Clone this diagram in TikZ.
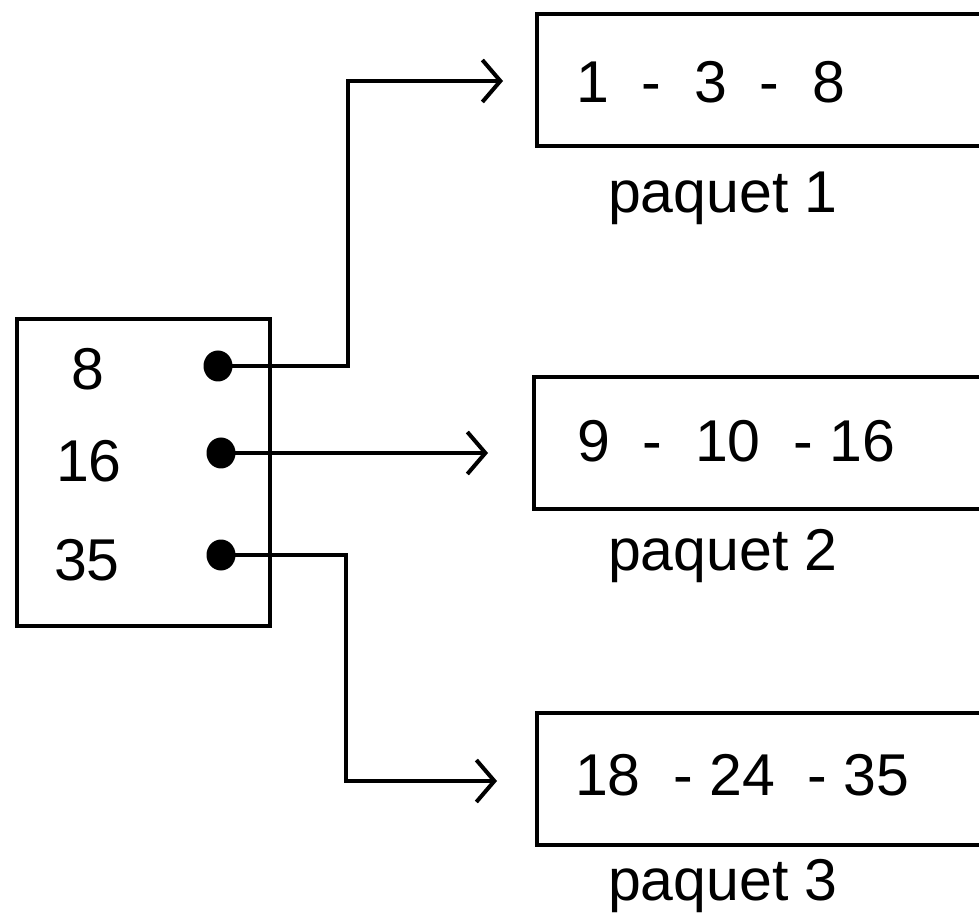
\documentclass[tikz,border=0pt]{standalone}
\usepackage{fontspec}
\setmainfont{Liberation Sans}
\usetikzlibrary{arrows.meta,shapes.geometric}

\begin{document}
\begin{tikzpicture}[
  x=0.5pt, y=-0.5pt,
  line width=2pt,
  font=\fontsize{29.5}{35}\selectfont,
  box/.style={draw, rectangle, anchor=north west, inner sep=0pt},
  pbox/.style={box, minimum width=232.5pt, minimum height=66pt},
  val/.style={anchor=base west, inner sep=0pt},
  key/.style={anchor=base, inner sep=0pt},
  dot/.style={ellipse, fill, minimum width=14.5pt, minimum height=15.5pt, inner sep=0pt},
  >={Straight Barb[length=9pt, width=21pt]},
]
\useasboundingbox (0,0) rectangle (979,924);
\clip (0,0) rectangle (979,924);
% index box
\node[box, minimum width=126.75pt, minimum height=153.5pt] (idx) at (14.5,317) {};
\node[key] (k1) at (88,390) {8};
\node[key] (k2) at (89,482) {16};
\node[key] (k3) at (87,580) {35};
\node[dot] (d1) at (218,366) {};
\node[dot] (d2) at (221,453) {};
\node[dot] (d3) at (221,555) {};
% packets
\node[pbox] (p1) at (535,12) {};
\node[pbox] (p2) at (532,375.5) {};
\node[pbox] (p3) at (535,710.5) {};
\node[val] (v1) at (574,103) {1\ \ -\ \ 3\ \ -\ \ 8};
\node[val] (v2) at (575,462) {9\ \ -\ \ 10\ \ - 16};
\node[val] (v3) at (573,795) {18\ \ - 24\ \ - 35};
\node[val] (l1) at (606,213) {paquet 1};
\node[val] (l2) at (606,570) {paquet 2};
\node[val] (l3) at (606,900) {paquet 3};
% links
\coordinate (b1) at (348,81);
\coordinate (t1) at (503,81);
\coordinate (t2) at (488,453);
\coordinate (b3) at (346,781);
\coordinate (t3) at (497,781);
\draw[->] (d1.center) -| (b1) -- (t1);
\draw[->] (d2.center) -- (t2);
\draw[->] (d3.center) -| (b3) -- (t3);
\end{tikzpicture}
\end{document}
